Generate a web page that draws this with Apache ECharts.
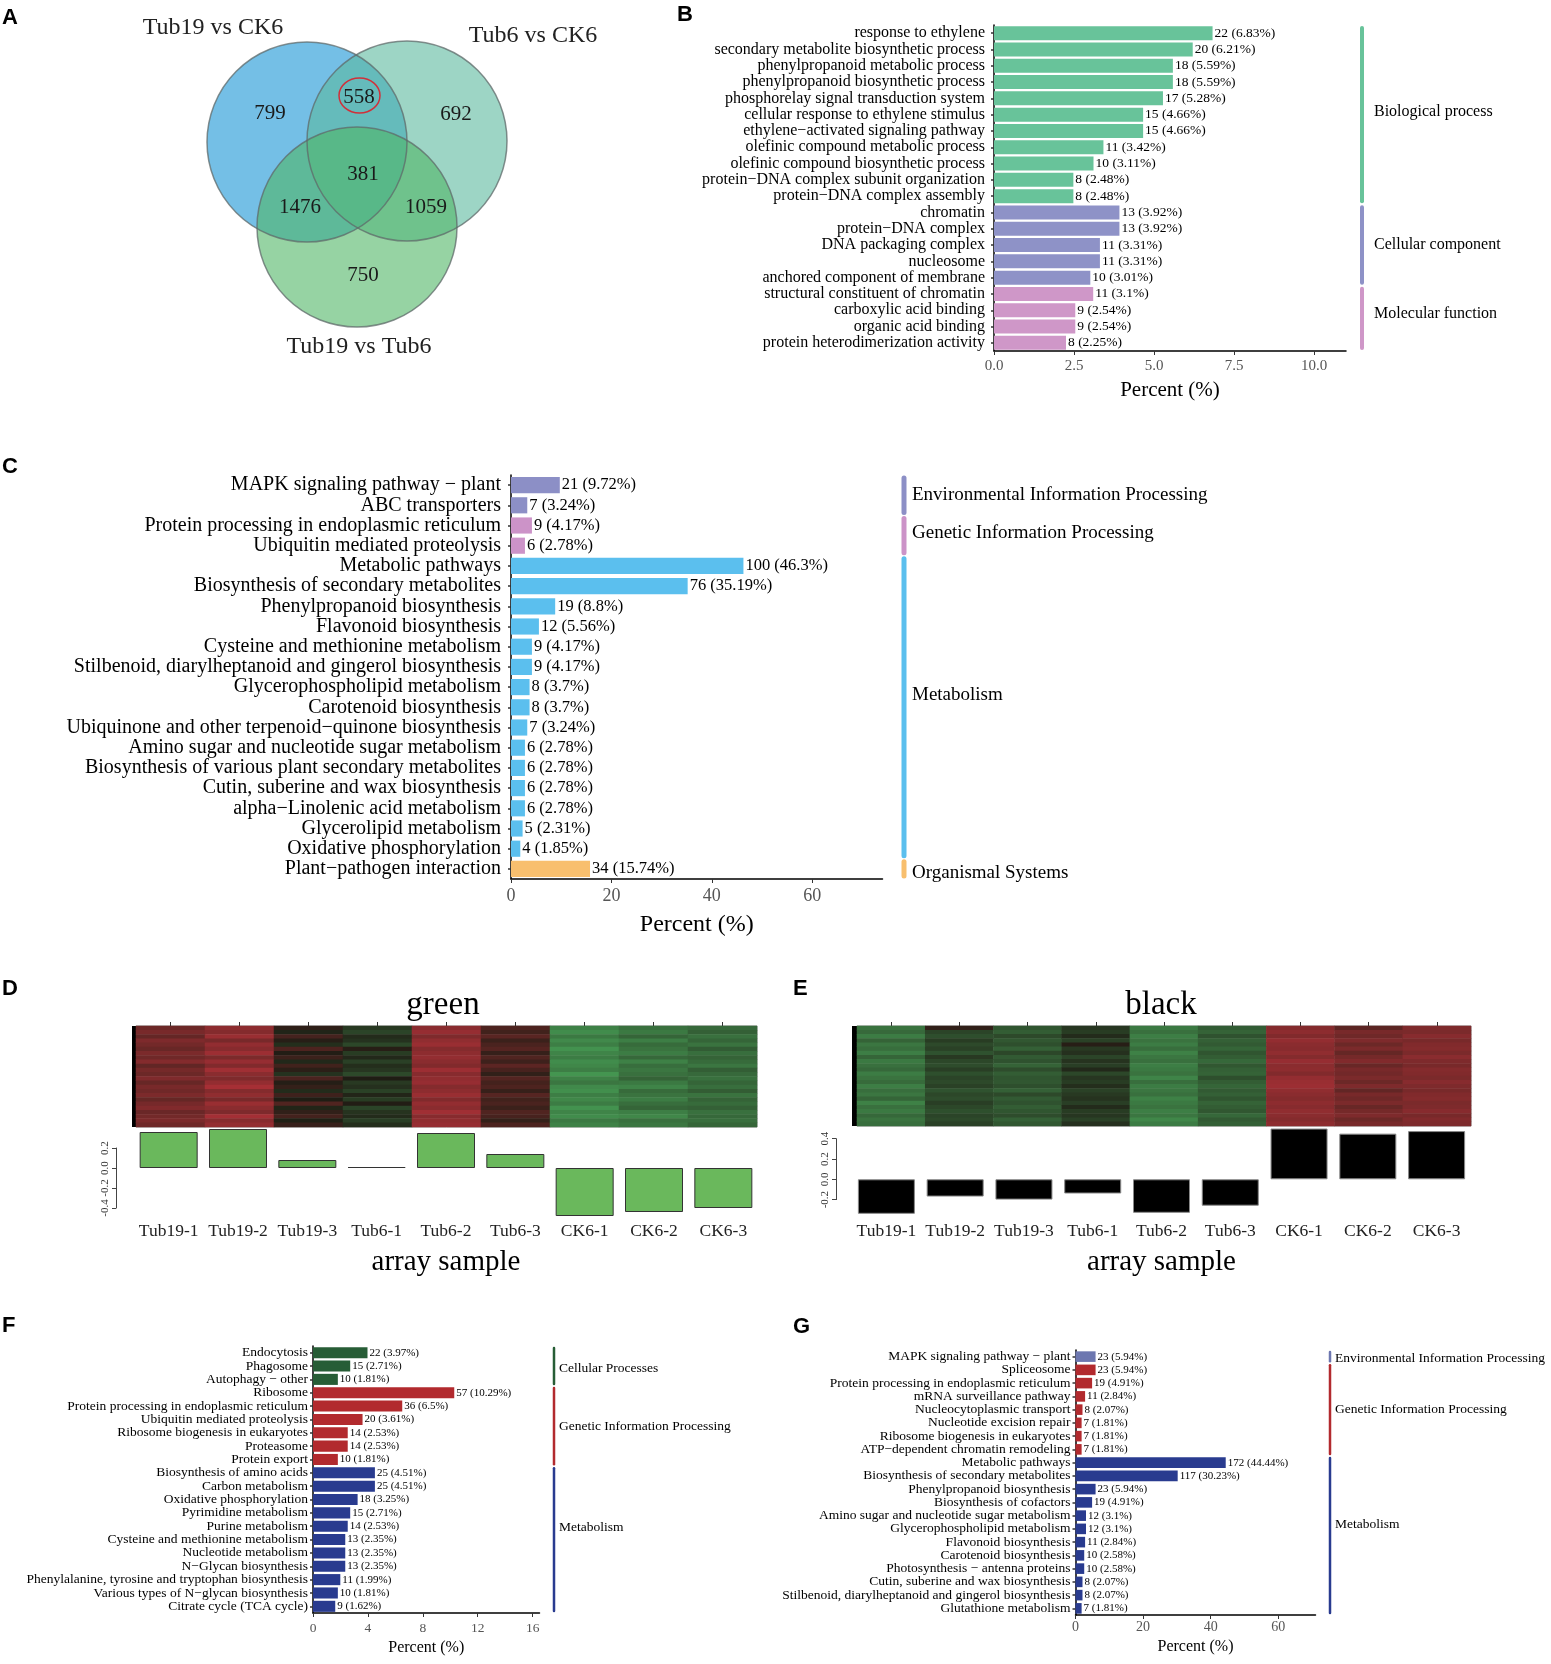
<!DOCTYPE html>
<html><head><meta charset="utf-8">
<script src="https://cdn.jsdelivr.net/npm/echarts@6/dist/echarts.min.js"></script>
<style>html,body{margin:0;padding:0;background:#fff}#c{width:1551px;height:1664px}</style>
</head><body><div id="c"></div>
<script>
const FONT = 'Liberation Serif';

// ---------- Panel A : Venn ----------
const vennSetNames = ['Tub19 vs CK6', 'Tub6 vs CK6', 'Tub19 vs Tub6'];
const vennRegionNames = ['Tub19vsCK6 only', 'Tub19vsCK6 & Tub6vsCK6', 'Tub6vsCK6 only', 'Tub19vsCK6 & Tub19vsTub6', 'all three', 'Tub6vsCK6 & Tub19vsTub6', 'Tub19vsTub6 only'];
const vennRegionCounts = [799, 558, 692, 1476, 381, 1059, 750];

// ---------- Panel B : GO ----------
const goTerms = ['response to ethylene', 'secondary metabolite biosynthetic process', 'phenylpropanoid metabolic process', 'phenylpropanoid biosynthetic process', 'phosphorelay signal transduction system', 'cellular response to ethylene stimulus', 'ethylene\u2212activated signaling pathway', 'olefinic compound metabolic process', 'olefinic compound biosynthetic process', 'protein\u2212DNA complex subunit organization', 'protein\u2212DNA complex assembly', 'chromatin', 'protein\u2212DNA complex', 'DNA packaging complex', 'nucleosome', 'anchored component of membrane', 'structural constituent of chromatin', 'carboxylic acid binding', 'organic acid binding', 'protein heterodimerization activity'];
const goCounts = [22, 20, 18, 18, 17, 15, 15, 11, 10, 8, 8, 13, 13, 11, 11, 10, 11, 9, 9, 8];
const goPercents = [6.83, 6.21, 5.59, 5.59, 5.28, 4.66, 4.66, 3.42, 3.11, 2.48, 2.48, 3.92, 3.92, 3.31, 3.31, 3.01, 3.1, 2.54, 2.54, 2.25];
const goGroupNames = ['Biological process', 'Cellular component', 'Molecular function'];
const goGroupStarts = [0, 11, 16];
const goGroupEnds = [10, 15, 19];
const goTicks = [0, 2.5, 5, 7.5, 10];

// ---------- Panel C : KEGG ----------
const keggCTerms = ['MAPK signaling pathway \u2212 plant', 'ABC transporters', 'Protein processing in endoplasmic reticulum', 'Ubiquitin mediated proteolysis', 'Metabolic pathways', 'Biosynthesis of secondary metabolites', 'Phenylpropanoid biosynthesis', 'Flavonoid biosynthesis', 'Cysteine and methionine metabolism', 'Stilbenoid, diarylheptanoid and gingerol biosynthesis', 'Glycerophospholipid metabolism', 'Carotenoid biosynthesis', 'Ubiquinone and other terpenoid\u2212quinone biosynthesis', 'Amino sugar and nucleotide sugar metabolism', 'Biosynthesis of various plant secondary metabolites', 'Cutin, suberine and wax biosynthesis', 'alpha\u2212Linolenic acid metabolism', 'Glycerolipid metabolism', 'Oxidative phosphorylation', 'Plant\u2212pathogen interaction'];
const keggCCounts = [21, 7, 9, 6, 100, 76, 19, 12, 9, 9, 8, 8, 7, 6, 6, 6, 6, 5, 4, 34];
const keggCPercents = [9.72, 3.24, 4.17, 2.78, 46.3, 35.19, 8.8, 5.56, 4.17, 4.17, 3.7, 3.7, 3.24, 2.78, 2.78, 2.78, 2.78, 2.31, 1.85, 15.74];
const keggCGroupNames = ['Environmental Information Processing', 'Genetic Information Processing', 'Metabolism', 'Organismal Systems'];
const keggCGroupStarts = [0, 2, 4, 19];
const keggCGroupEnds = [1, 3, 18, 19];
const keggCTicks = [0, 20, 40, 60];

// ---------- Panels D / E : module heatmaps ----------
const sampleNames = ['Tub19-1', 'Tub19-2', 'Tub19-3', 'Tub6-1', 'Tub6-2', 'Tub6-3', 'CK6-1', 'CK6-2', 'CK6-3'];
const greenEigengene = [0.36, 0.39, 0.08, 0.01, 0.35, 0.14, -0.48, -0.44, -0.40];
const blackEigengene = [-0.34, -0.17, -0.20, -0.14, -0.33, -0.26, 0.50, 0.45, 0.475];
const greenModuleExpr = [
  [0.50, 0.72, 0.10, -0.20, 0.70, 0.30, -0.72, -0.60, -0.55],
  [0.58, 0.66, -0.05, -0.28, 0.78, 0.22, -0.80, -0.66, -0.48],
  [0.45, 0.80, 0.25, -0.10, 0.62, 0.38, -0.66, -0.52, -0.60],
  [0.62, 0.58, 0.05, -0.15, 0.74, 0.18, -0.78, -0.70, -0.52],
  [0.55, 0.75, -0.12, -0.30, 0.80, 0.28, -0.70, -0.56, -0.62],
  [0.48, 0.68, 0.30, 0.05, 0.66, 0.35, -0.84, -0.62, -0.45],
  [0.60, 0.82, 0.02, -0.22, 0.72, 0.15, -0.74, -0.68, -0.58],
  [0.52, 0.60, 0.18, -0.08, 0.76, 0.32, -0.68, -0.54, -0.50],
  [0.66, 0.78, -0.08, -0.25, 0.70, 0.20, -0.80, -0.72, -0.56],
  [0.44, 0.64, 0.22, -0.12, 0.64, 0.40, -0.76, -0.58, -0.64],
  [0.56, 0.84, 0.08, -0.18, 0.82, 0.26, -0.70, -0.64, -0.47],
  [0.50, 0.70, -0.15, -0.32, 0.68, 0.12, -0.86, -0.60, -0.55],
  [0.63, 0.62, 0.28, 0.00, 0.74, 0.34, -0.72, -0.50, -0.60],
  [0.47, 0.76, 0.04, -0.20, 0.78, 0.24, -0.64, -0.66, -0.52],
  [0.58, 0.88, 0.14, -0.14, 0.66, 0.30, -0.78, -0.74, -0.58],
  [0.53, 0.66, -0.10, -0.26, 0.72, 0.16, -0.82, -0.56, -0.46],
  [0.61, 0.74, 0.20, -0.06, 0.80, 0.36, -0.70, -0.62, -0.62],
  [0.46, 0.58, 0.00, -0.22, 0.64, 0.22, -0.76, -0.68, -0.50],
  [0.57, 0.80, 0.32, 0.02, 0.76, 0.28, -0.68, -0.58, -0.56],
  [0.64, 0.70, -0.06, -0.28, 0.70, 0.18, -0.84, -0.52, -0.48],
  [0.49, 0.62, 0.12, -0.16, 0.84, 0.32, -0.74, -0.70, -0.60],
  [0.55, 0.86, 0.24, -0.10, 0.68, 0.26, -0.80, -0.76, -0.54],
  [0.60, 0.68, -0.02, -0.24, 0.74, 0.14, -0.66, -0.60, -0.58],
  [0.52, 0.76, 0.16, -0.12, 0.78, 0.30, -0.72, -0.64, -0.52]
];
const blackModuleExpr = [
  [-0.62, 0.12, -0.40, -0.18, -0.66, -0.45, 0.66, 0.40, 0.62],
  [-0.55, -0.28, -0.46, -0.22, -0.60, -0.50, 0.72, 0.58, 0.60],
  [-0.68, -0.35, -0.32, -0.10, -0.70, -0.38, 0.64, 0.52, 0.68],
  [-0.50, -0.22, -0.42, -0.26, -0.62, -0.48, 0.76, 0.62, 0.58],
  [-0.64, -0.32, -0.36, 0.05, -0.68, -0.44, 0.70, 0.50, 0.64],
  [-0.58, -0.26, -0.48, -0.20, -0.58, -0.52, 0.68, 0.60, 0.66],
  [-0.70, -0.38, -0.30, -0.14, -0.72, -0.40, 0.74, 0.46, 0.60],
  [-0.52, -0.20, -0.44, -0.28, -0.64, -0.46, 0.66, 0.56, 0.70],
  [-0.66, -0.30, -0.38, -0.16, -0.60, -0.54, 0.78, 0.64, 0.62],
  [-0.60, -0.34, -0.50, -0.24, -0.70, -0.42, 0.70, 0.48, 0.58],
  [-0.54, -0.24, -0.34, -0.08, -0.66, -0.48, 0.72, 0.58, 0.66],
  [-0.68, -0.36, -0.46, -0.30, -0.62, -0.50, 0.64, 0.54, 0.64],
  [-0.62, -0.28, -0.40, -0.18, -0.74, -0.36, 0.76, 0.60, 0.60],
  [-0.56, -0.32, -0.42, -0.22, -0.58, -0.46, 0.80, 0.50, 0.68],
  [-0.70, -0.26, -0.36, -0.12, -0.68, -0.52, 0.82, 0.62, 0.62],
  [-0.58, -0.38, -0.48, -0.26, -0.64, -0.44, 0.74, 0.44, 0.58],
  [-0.64, -0.30, -0.32, -0.20, -0.60, -0.48, 0.70, 0.58, 0.64],
  [-0.52, -0.34, -0.44, -0.16, -0.72, -0.40, 0.66, 0.52, 0.66],
  [-0.72, -0.24, -0.38, -0.24, -0.66, -0.50, 0.72, 0.60, 0.60],
  [-0.60, -0.30, -0.46, -0.10, -0.62, -0.46, 0.68, 0.48, 0.62],
  [-0.66, -0.36, -0.40, -0.22, -0.70, -0.42, 0.74, 0.56, 0.68],
  [-0.54, -0.28, -0.34, -0.18, -0.64, -0.54, 0.70, 0.62, 0.58],
  [-0.62, -0.32, -0.48, -0.26, -0.76, -0.44, 0.66, 0.50, 0.64],
  [-0.58, -0.26, -0.42, -0.14, -0.68, -0.48, 0.72, 0.58, 0.62]
];
const eigenTicksGreen = [-0.4, -0.2, 0.0, 0.2];
const eigenTicksBlack = [-0.2, 0.0, 0.2, 0.4];

// ---------- Panel F : KEGG (green module) ----------
const keggFTerms = ['Endocytosis', 'Phagosome', 'Autophagy \u2212 other', 'Ribosome', 'Protein processing in endoplasmic reticulum', 'Ubiquitin mediated proteolysis', 'Ribosome biogenesis in eukaryotes', 'Proteasome', 'Protein export', 'Biosynthesis of amino acids', 'Carbon metabolism', 'Oxidative phosphorylation', 'Pyrimidine metabolism', 'Purine metabolism', 'Cysteine and methionine metabolism', 'Nucleotide metabolism', 'N\u2212Glycan biosynthesis', 'Phenylalanine, tyrosine and tryptophan biosynthesis', 'Various types of N\u2212glycan biosynthesis', 'Citrate cycle (TCA cycle)'];
const keggFCounts = [22, 15, 10, 57, 36, 20, 14, 14, 10, 25, 25, 18, 15, 14, 13, 13, 13, 11, 10, 9];
const keggFPercents = [3.97, 2.71, 1.81, 10.29, 6.5, 3.61, 2.53, 2.53, 1.81, 4.51, 4.51, 3.25, 2.71, 2.53, 2.35, 2.35, 2.35, 1.99, 1.81, 1.62];
const keggFGroupNames = ['Cellular Processes', 'Genetic Information Processing', 'Metabolism'];
const keggFGroupStarts = [0, 3, 9];
const keggFGroupEnds = [2, 8, 19];
const keggFTicks = [0, 4, 8, 12, 16];

// ---------- Panel G : KEGG (black module) ----------
const keggGTerms = ['MAPK signaling pathway \u2212 plant', 'Spliceosome', 'Protein processing in endoplasmic reticulum', 'mRNA surveillance pathway', 'Nucleocytoplasmic transport', 'Nucleotide excision repair', 'Ribosome biogenesis in eukaryotes', 'ATP\u2212dependent chromatin remodeling', 'Metabolic pathways', 'Biosynthesis of secondary metabolites', 'Phenylpropanoid biosynthesis', 'Biosynthesis of cofactors', 'Amino sugar and nucleotide sugar metabolism', 'Glycerophospholipid metabolism', 'Flavonoid biosynthesis', 'Carotenoid biosynthesis', 'Photosynthesis \u2212 antenna proteins', 'Cutin, suberine and wax biosynthesis', 'Stilbenoid, diarylheptanoid and gingerol biosynthesis', 'Glutathione metabolism'];
const keggGCounts = [23, 23, 19, 11, 8, 7, 7, 7, 172, 117, 23, 19, 12, 12, 11, 10, 10, 8, 8, 7];
const keggGPercents = [5.94, 5.94, 4.91, 2.84, 2.07, 1.81, 1.81, 1.81, 44.44, 30.23, 5.94, 4.91, 3.1, 3.1, 2.84, 2.58, 2.58, 2.07, 2.07, 1.81];
const keggGGroupNames = ['Environmental Information Processing', 'Genetic Information Processing', 'Metabolism'];
const keggGGroupStarts = [0, 1, 8];
const keggGGroupEnds = [0, 7, 19];
const keggGTicks = [0, 20, 40, 60];

// =====================================================================
const chart = echarts.init(document.getElementById('c'), null, {renderer: 'canvas'});
const grids = [], xAxes = [], yAxes = [], series = [], visualMaps = [], graphics = [];

function addBarPanel(c) {
  const gi = grids.length;
  grids.push({left: c.left, top: c.top, width: c.width, height: c.height});
  xAxes.push({
    gridIndex: gi, type: 'value', min: 0, max: c.max,
    axisLine: {show: true, onZero: false, lineStyle: {color: '#000', width: 1.5}},
    axisTick: {show: true, length: 4, customValues: c.ticks, lineStyle: {color: '#333'}},
    axisLabel: {customValues: c.ticks, formatter: c.fmt, color: '#555', fontSize: c.tickFont, margin: c.tickMargin, fontFamily: FONT},
    splitLine: {show: false},
    name: 'Percent (%)', nameLocation: 'middle', nameGap: c.nameGap,
    nameTextStyle: {fontSize: c.nameFont, color: '#000', fontFamily: FONT}
  });
  yAxes.push({
    gridIndex: gi, type: 'category', inverse: true, data: c.terms,
    axisLine: {show: true, lineStyle: {color: '#000', width: 1.5}},
    axisTick: {show: true, alignWithLabel: true, length: 3, lineStyle: {color: '#333', width: 1.5}},
    axisLabel: {interval: 0, fontSize: c.catFont, color: '#000', margin: c.catMargin, fontFamily: FONT}
  });
  const colorOf = i => {
    for (let g = 0; g < c.gStarts.length; g++) if (i >= c.gStarts[g] && i <= c.gEnds[g]) return c.gColors[g];
    return '#999';
  };
  series.push({
    type: 'bar', xAxisIndex: gi, yAxisIndex: gi, barCategoryGap: c.barGap,
    data: c.pcts.map((v, i) => ({value: v, itemStyle: {color: colorOf(i)}})),
    label: {show: true, position: 'right', distance: 2, fontSize: c.valFont, color: '#000', fontFamily: FONT,
      formatter: p => c.counts[p.dataIndex] + ' (' + p.value + '%)'}
  });
  series.push({
    type: 'custom', xAxisIndex: gi, yAxisIndex: gi, clip: false, silent: true,
    data: c.gNames.map((n, g) => [c.max, c.gStarts[g], c.gEnds[g]]),
    renderItem: (params, api) => {
      const g = params.dataIndex;
      const a = api.coord([api.value(0), api.value(1)]);
      const b = api.coord([api.value(0), api.value(2)]);
      const band = api.size([0, 1])[1];
      const x = a[0] + c.lineOff;
      const y0 = a[1] - band / 2 + c.inset, y1 = b[1] + band / 2 - c.inset;
      const dy = (c.labelDy && c.labelDy[g]) || 0;
      return {type: 'group', children: [
        {type: 'line', shape: {x1: x, y1: y0, x2: x, y2: y1}, style: {stroke: c.gColors[g], lineWidth: c.lineW, lineCap: 'round'}},
        {type: 'text', x: x + c.textOff, y: (y0 + y1) / 2 + dy,
          style: {text: c.gNames[g], fill: '#000', fontSize: c.groupFont, fontFamily: FONT, verticalAlign: 'middle', align: 'left'}}
      ]};
    }
  });
}

function addModulePanel(c) {
  const gi = grids.length;
  grids.push({left: c.hLeft, top: c.hTop, width: c.hWidth, height: c.hHeight, show: true,
    borderColor: '#8a8a8a', borderWidth: 1, backgroundColor: 'transparent'});
  xAxes.push({gridIndex: gi, type: 'category', position: 'top', data: sampleNames,
    axisLine: {show: false}, axisTick: {show: true, alignWithLabel: true, length: 4, lineStyle: {color: '#333'}},
    axisLabel: {show: false}, splitLine: {show: false}});
  yAxes.push({gridIndex: gi, type: 'category', inverse: true, data: c.rows.map((r, i) => String(i)), show: false});
  const data = [];
  c.rows.forEach((r, ri) => r.forEach((v, ci) => data.push([ci, ri, v])));
  const si = series.length;
  series.push({type: 'heatmap', xAxisIndex: gi, yAxisIndex: gi, data: data, itemStyle: {borderWidth: 0}, progressive: 0, silent: true});
  visualMaps.push({type: 'continuous', show: false, seriesIndex: si, min: -1, max: 1, dimension: 2,
    inRange: {color: ['#4aa85a', '#1f1d14', '#b8323a']}});
  const gj = grids.length;
  grids.push({left: c.bLeft, top: c.bTop, width: c.bWidth, height: c.bHeight});
  xAxes.push({gridIndex: gj, type: 'category', data: sampleNames,
    axisLine: {show: false, onZero: false}, axisTick: {show: false},
    axisLabel: {interval: 0, fontSize: 17.5, color: '#222', margin: c.labMargin, fontFamily: FONT},
    name: 'array sample', nameLocation: 'middle', nameGap: c.nameGap,
    nameTextStyle: {fontSize: 29, color: '#000', fontFamily: FONT}});
  yAxes.push({gridIndex: gj, type: 'value', min: c.ticks[0], max: c.ticks[c.ticks.length - 1], interval: 0.2,
    offset: c.yOff,
    axisLine: {show: true, lineStyle: {color: '#444'}},
    axisTick: {show: true, length: 4, lineStyle: {color: '#444'}},
    axisLabel: {rotate: 90, fontSize: 11, color: '#333', margin: 5, fontFamily: FONT,
      formatter: v => Math.abs(v) < 1e-9 ? '0.0' : v.toFixed(1)},
    splitLine: {show: false}});
  series.push({type: 'bar', xAxisIndex: gj, yAxisIndex: gj, data: c.eigen, barWidth: c.barW, clip: false, silent: true,
    itemStyle: {color: c.barColor, borderColor: c.barBorder, borderWidth: 1}});
}

// B
addBarPanel({terms: goTerms, counts: goCounts, pcts: goPercents, gNames: goGroupNames, gStarts: goGroupStarts, gEnds: goGroupEnds,
  gColors: ['#68c39a', '#8e92c7', '#cf97c8'], max: 11, ticks: goTicks, fmt: v => v.toFixed(1),
  left: 994, top: 25, width: 352, height: 326, catFont: 16, valFont: 13.5, tickFont: 15, nameFont: 21, nameGap: 29,
  tickMargin: 8, catMargin: 9, barGap: '14%', lineOff: 16, textOff: 12, lineW: 4, groupFont: 16, inset: 3,
  labelDy: [-3, 0, -5]});
// C
addBarPanel({terms: keggCTerms, counts: keggCCounts, pcts: keggCPercents, gNames: keggCGroupNames, gStarts: keggCGroupStarts, gEnds: keggCGroupEnds,
  gColors: ['#8c8fc6', '#cc93c8', '#5bbfee', '#f8bf6e'], max: 74, ticks: keggCTicks, fmt: v => String(v),
  left: 511, top: 475, width: 371.5, height: 404, catFont: 20, valFont: 16.5, tickFont: 18, nameFont: 24, nameGap: 34,
  tickMargin: 8, catMargin: 10, barGap: '20%', lineOff: 21.5, textOff: 8, lineW: 5, groupFont: 19, inset: 3,
  labelDy: [0, -3, -12, 4]});
// D
addModulePanel({rows: greenModuleExpr, eigen: greenEigengene, ticks: eigenTicksGreen,
  hLeft: 136, hTop: 1026, hWidth: 621, hHeight: 101,
  bLeft: 134, bTop: 1148, bWidth: 624, bHeight: 60, yOff: 18, barW: 58, labMargin: 14, nameGap: 40,
  barColor: '#6ab85c', barBorder: '#333'});
// E
addModulePanel({rows: blackModuleExpr, eigen: blackEigengene, ticks: eigenTicksBlack,
  hLeft: 857, hTop: 1026, hWidth: 614, hHeight: 100,
  bLeft: 852, bTop: 1138.7, bWidth: 619, bHeight: 60.9, yOff: 16, barW: 57, labMargin: 23, nameGap: 48,
  barColor: '#000', barBorder: '#888'});
// F
addBarPanel({terms: keggFTerms, counts: keggFCounts, pcts: keggFPercents, gNames: keggFGroupNames, gStarts: keggFGroupStarts, gEnds: keggFGroupEnds,
  gColors: ['#275d36', '#b22a2e', '#293b8f'], max: 16.5, ticks: keggFTicks, fmt: v => String(v),
  left: 313, top: 1346, width: 226.5, height: 267, catFont: 13.5, valFont: 11, tickFont: 13.5, nameFont: 16, nameGap: 27,
  tickMargin: 8, catMargin: 5, barGap: '17%', lineOff: 14.5, textOff: 5, lineW: 2.5, groupFont: 13.5, inset: 2,
  labelDy: [2, 0, -12]});
// G
addBarPanel({terms: keggGTerms, counts: keggGCounts, pcts: keggGPercents, gNames: keggGGroupNames, gStarts: keggGGroupStarts, gEnds: keggGGroupEnds,
  gColors: ['#6d77b0', '#b22a2e', '#293b8f'], max: 71, ticks: keggGTicks, fmt: v => String(v),
  left: 1075.5, top: 1350, width: 240, height: 265, catFont: 13.5, valFont: 11, tickFont: 14, nameFont: 16, nameGap: 24,
  tickMargin: 5, catMargin: 5, barGap: '20%', lineOff: 14.5, textOff: 5, lineW: 2.5, groupFont: 13.5, inset: 2,
  labelDy: [2, 0, -11]});

// ---------- graphics: Venn, titles, letters ----------
const vennCircles = [
  {cx: 307, cy: 142, fill: 'rgb(116,191,230)'},
  {cx: 407, cy: 141, fill: 'rgba(92,185,158,0.6)'},
  {cx: 357, cy: 227, fill: 'rgba(80,182,102,0.6)'}
];
vennCircles.forEach(c => graphics.push({type: 'circle', shape: {cx: c.cx, cy: c.cy, r: 100}, style: {fill: c.fill}, silent: true}));
vennCircles.forEach(c => graphics.push({type: 'circle', shape: {cx: c.cx, cy: c.cy, r: 100}, style: {fill: 'none', stroke: 'rgba(95,105,105,0.75)', lineWidth: 1.5}, silent: true}));
const vennSetLabelPos = [[213, 28], [533, 36], [359, 347]];
vennSetNames.forEach((n, i) => graphics.push({type: 'text', x: vennSetLabelPos[i][0], y: vennSetLabelPos[i][1],
  style: {text: n, fontSize: 24, fontFamily: FONT, fill: '#222', align: 'center', verticalAlign: 'middle'}, silent: true}));
const vennRegionPos = [[270, 113], [359, 97], [456, 114], [300, 207], [363, 174], [426, 207], [363, 275]];
vennRegionCounts.forEach((n, i) => graphics.push({type: 'text', x: vennRegionPos[i][0], y: vennRegionPos[i][1],
  style: {text: String(n), fontSize: 21, fontFamily: FONT, fill: '#1a1a1a', align: 'center', verticalAlign: 'middle'}, silent: true}));
graphics.push({type: 'ellipse', shape: {cx: 359.5, cy: 95.5, rx: 20.5, ry: 17.5}, style: {fill: 'none', stroke: '#d0303a', lineWidth: 1.5}, silent: true});

graphics.push({type: 'rect', shape: {x: 132, y: 1026, width: 4, height: 101}, style: {fill: '#000'}, silent: true});
graphics.push({type: 'rect', shape: {x: 852, y: 1026, width: 5, height: 100}, style: {fill: '#000'}, silent: true});
graphics.push({type: 'text', x: 443, y: 1005, style: {text: 'green', fontSize: 33, fontFamily: FONT, fill: '#000', align: 'center', verticalAlign: 'middle'}, silent: true});
graphics.push({type: 'text', x: 1161, y: 1005, style: {text: 'black', fontSize: 33, fontFamily: FONT, fill: '#000', align: 'center', verticalAlign: 'middle'}, silent: true});

const panelLetters = ['A', 'B', 'C', 'D', 'E', 'F', 'G'];
const panelLetterPos = [[2, 18], [677, 15], [2, 467], [2, 989], [793, 989], [2, 1326], [793, 1327]];
panelLetters.forEach((t, i) => graphics.push({type: 'text', x: panelLetterPos[i][0], y: panelLetterPos[i][1],
  style: {text: t, fontSize: 22, fontWeight: 'bold', fontFamily: 'Liberation Sans', fill: '#000', align: 'left', verticalAlign: 'middle'}, silent: true}));

chart.setOption({
  animation: false,
  backgroundColor: '#fff',
  textStyle: {fontFamily: FONT},
  grid: grids, xAxis: xAxes, yAxis: yAxes, series: series, visualMap: visualMaps,
  graphic: {elements: graphics}
});
</script></body></html>
